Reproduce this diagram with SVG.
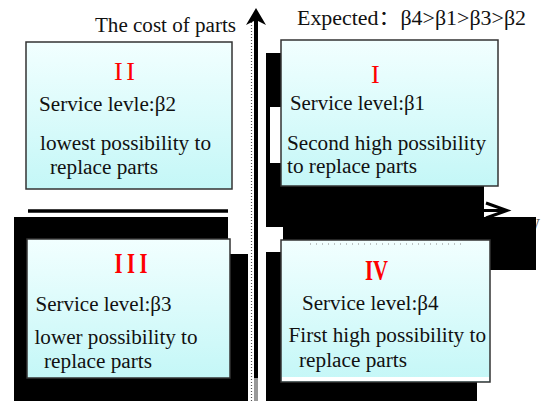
<svg xmlns="http://www.w3.org/2000/svg" width="541" height="401" viewBox="0 0 541 401">
<defs>
<linearGradient id="boxfill" x1="0" y1="0" x2="0" y2="1">
<stop offset="0" stop-color="#f2ffff"/>
<stop offset="1" stop-color="#c4f7f7"/>
</linearGradient>
</defs>
<style>
.box{fill:url(#boxfill);stroke:#333;stroke-width:1.5}
.t{font-family:"Liberation Serif","Times New Roman",serif;font-size:20px;fill:#111}
.num{font-family:"Liberation Serif","Times New Roman",serif;font-size:26px;fill:#ff0000}
.big{font-size:29px;font-weight:bold}
.blk{fill:#000}
.wht{fill:#fff}
</style>
<rect width="541" height="401" fill="#fff"/>
<text class="t" x="530" y="229" style="fill:#666">y</text>
<g id="artifacts">
<path class="blk" d="M14,217 H228 V254 H248 V401 H14 Z"/>
<path class="blk" d="M266,53 H484 V217 H536 V270 H490 V382 H477 V401 H266 Z"/>
<rect class="wht" x="270" y="107" width="11" height="56"/>
<rect class="wht" x="266" y="227" width="17" height="25"/>
</g>
<g id="connectors">
<line x1="251.5" y1="22" x2="251.5" y2="401" stroke="#555" stroke-width="1.2" stroke-dasharray="1 2"/>
<line x1="256" y1="18" x2="256" y2="378" stroke="#000" stroke-width="4"/>
<rect x="254" y="378" width="4" height="23" fill="#999"/>
<polygon points="256,8 266,25 256,20 246,25" fill="#000"/>
<line x1="28" y1="211" x2="228" y2="211" stroke="#000" stroke-width="3.5"/>
<line x1="482" y1="210.5" x2="505" y2="210.5" stroke="#000" stroke-width="3"/>
<polyline points="486,203 507,210.5 486,218" fill="none" stroke="#000" stroke-width="3"/>
</g>
<g id="labels">
<text class="t" x="95" y="32" textLength="141" lengthAdjust="spacingAndGlyphs">The cost of parts</text>
<text class="t" x="297" y="25" textLength="229" lengthAdjust="spacingAndGlyphs" style="font-family:'Liberation Serif','Noto Sans CJK SC',serif">Expected：β4&gt;β1&gt;β3&gt;β2</text>
</g>
<g id="box-II">
<rect class="box" x="26" y="42" width="206" height="147"/>
<text class="num" x="114" y="80" textLength="21" lengthAdjust="spacing">II</text>
<text class="t" x="39" y="111" textLength="137" lengthAdjust="spacingAndGlyphs">Service levle:β2</text>
<text class="t" x="40" y="150" textLength="171" lengthAdjust="spacingAndGlyphs">lowest possibility to</text>
<text class="t" x="50" y="174" textLength="108" lengthAdjust="spacingAndGlyphs">replace parts</text>
</g>
<g id="box-I">
<rect class="box" x="281" y="40" width="217" height="146"/>
<text class="num" x="371" y="83">I</text>
<text class="t" x="290" y="110" textLength="135" lengthAdjust="spacingAndGlyphs">Service level:β1</text>
<text class="t" x="287" y="150" textLength="199" lengthAdjust="spacingAndGlyphs">Second high possibility</text>
<text class="t" x="287" y="173" textLength="130" lengthAdjust="spacingAndGlyphs">to replace parts</text>
</g>
<g id="box-III">
<rect class="box" x="27" y="239" width="203" height="139"/>
<text class="num big" y="273"><tspan x="114.5" textLength="8" lengthAdjust="spacingAndGlyphs">I</tspan><tspan x="127" textLength="8" lengthAdjust="spacingAndGlyphs">I</tspan><tspan x="139.5" textLength="8" lengthAdjust="spacingAndGlyphs">I</tspan></text>
<text class="t" x="35.5" y="311" textLength="136" lengthAdjust="spacingAndGlyphs">Service level:β3</text>
<text class="t" x="34.5" y="344" textLength="163" lengthAdjust="spacingAndGlyphs">lower possibility to</text>
<text class="t" x="44" y="368" textLength="108" lengthAdjust="spacingAndGlyphs">replace parts</text>
</g>
<g id="box-IV">
<rect class="box" x="281" y="240" width="209" height="142"/>
<rect class="wht" x="282" y="377" width="207" height="4"/>
<line x1="310" y1="244" x2="463" y2="244" stroke="#888" stroke-width="1" stroke-dasharray="1 5"/>
<text class="num big" x="365" y="280" textLength="23" lengthAdjust="spacingAndGlyphs">IV</text>
<text class="t" x="302" y="310" textLength="136.5" lengthAdjust="spacingAndGlyphs">Service level:β4</text>
<text class="t" x="288.5" y="342" textLength="197.5" lengthAdjust="spacingAndGlyphs">First high possibility to</text>
<text class="t" x="299" y="367" textLength="108" lengthAdjust="spacingAndGlyphs">replace parts</text>
</g>
</svg>
